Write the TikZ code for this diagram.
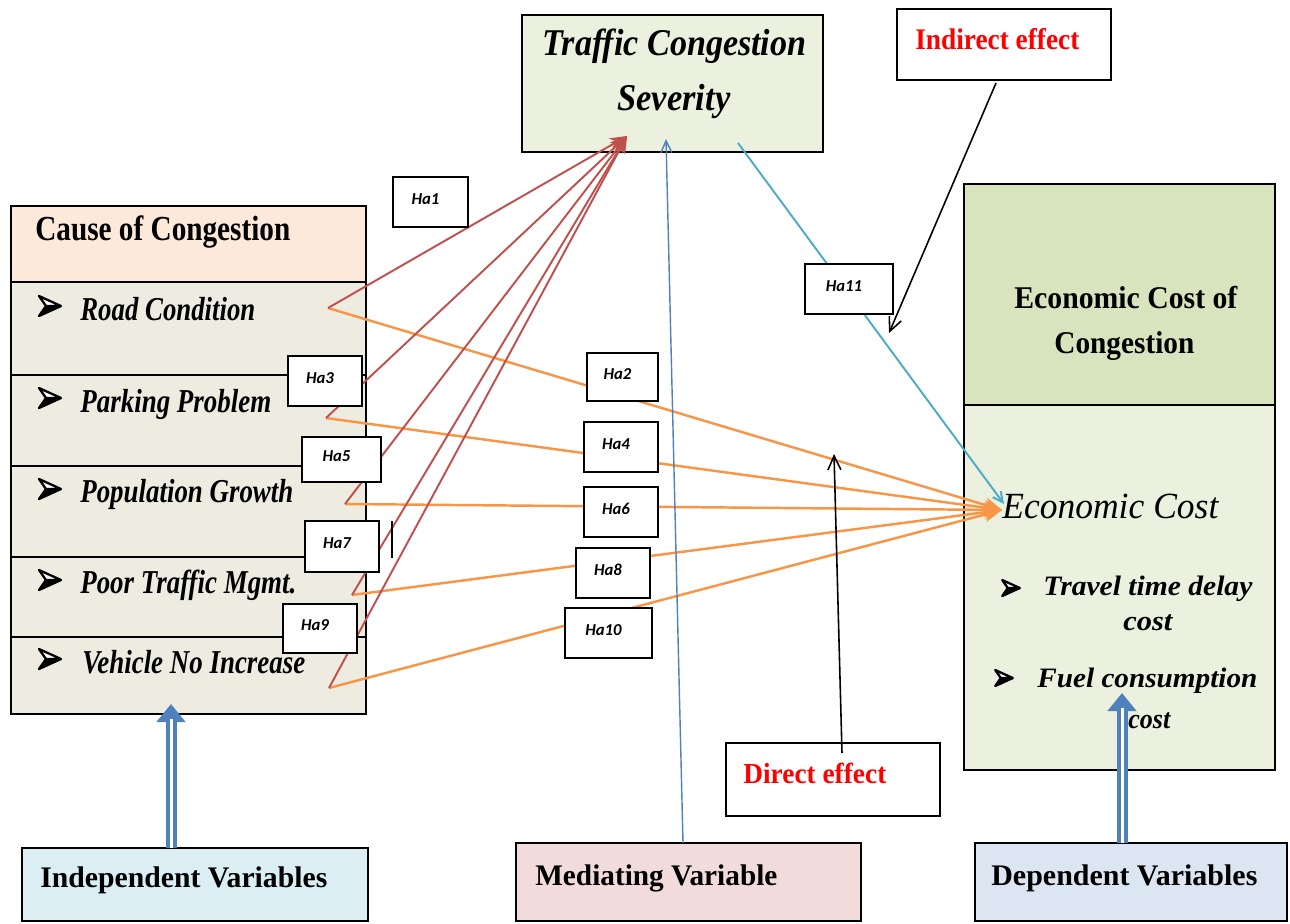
\documentclass[tikz,border=0pt]{standalone}
\usepackage{fontspec}
\setmainfont{Liberation Serif}
\newfontfamily\hafont{Carlito}
\usepackage{graphicx}
\usetikzlibrary{arrows.meta,fit}
\newlength\pxu \setlength\pxu{0.02cm}
\newcommand\W[2]{\resizebox{#1\pxu}{\height}{#2}}
\definecolor{tcsfill}{HTML}{EBF1DE}
\definecolor{causehead}{HTML}{FDE9D9}
\definecolor{causeitem}{HTML}{EEECE1}
\definecolor{econhead}{HTML}{D7E4BD}
\definecolor{econlow}{HTML}{EBF1DE}
\definecolor{indfill}{HTML}{DAEEF3}
\definecolor{medfill}{HTML}{F2DCDB}
\definecolor{depfill}{HTML}{DCE6F2}
\definecolor{cred}{HTML}{C0504D}
\definecolor{corg}{HTML}{F79646}
\definecolor{ccyan}{HTML}{4BACC6}
\definecolor{cblue}{HTML}{4F81BD}
\definecolor{ctxtred}{HTML}{FF0000}
\tikzset{
 box/.style={draw=black, line width=1pt, inner sep=0pt, rectangle},
 habox/.style={draw=black, line width=0.8pt, fill=white, inner sep=0pt, rectangle},
 hatext/.style={font=\hafont\bfseries\itshape\fontsize{9.5pt}{11pt}\selectfont, inner sep=0pt},
 txt/.style={anchor=base west, inner sep=0pt},
 redln/.style={draw=cred, line width=1.1pt, -{Stealth[length=0.34cm,width=0.28cm]}},
 orgln/.style={draw=corg, line width=1.4pt, -{Stealth[length=0.36cm,width=0.3cm]}},
 cyanln/.style={draw=ccyan, line width=1.1pt, -{Straight Barb[length=0.2cm,width=0.2cm]}},
 medln/.style={draw=cblue, line width=0.8pt, -{Straight Barb[length=0.24cm,width=0.22cm]}},
 blkln/.style={draw=black, line width=0.9pt, -{Straight Barb[length=0.28cm,width=0.26cm]}},
 dblout/.style={draw=cblue, line width=0.22cm, -{Triangle[length=0.36cm,width=0.56cm]}},
 dblin/.style={draw=white, line width=0.06cm, shorten >=0.3cm},
 bulletmark/.pic={
   \fill[black] (11,0) -- (-11,10) -- (-4,0) -- cycle;
   \draw[black, line width=1.3pt, fill=white, line join=round] (11,0) -- (-11,-10) -- (-4,0) -- cycle;
   \draw[black, line width=1.3pt, line join=round] (11,0) -- (-11,10) -- (-4,0);
 },
}
\begin{document}
\begin{tikzpicture}[x=0.02cm,y=-0.02cm]
\useasboundingbox (0,0) rectangle (1290,923);

% ---------- boxes ----------
\node[box, fill=tcsfill, fit={(522,15) (823,152)}] (tcs) {};
\node[box, fill=white, fit={(897,9) (1111,80)}] (indbox) {};
\node[box, fill=causehead, fit={(11,206) (366,282)}] (causeh) {};
\node[box, fill=causeitem, fit={(11,282) (366,375)}] (road) {};
\node[box, fill=causeitem, fit={(11,375) (366,466)}] (park) {};
\node[box, fill=causeitem, fit={(11,466) (366,557)}] (pop) {};
\node[box, fill=causeitem, fit={(11,557) (366,637)}] (poor) {};
\node[box, fill=causeitem, fit={(11,637) (366,714)}] (veh) {};
\node[box, fill=econhead, fit={(964,184) (1275,405)}] (econh) {};
\node[box, fill=econlow, fit={(964,405) (1275,770)}] (econ) {};
\node[box, fill=white, fit={(726,743) (940,816)}] (dirbox) {};
\node[box, fill=indfill, fit={(22,848) (368,921)}] (indep) {};
\node[box, fill=medfill, fit={(516,843) (861,921)}] (med) {};
\node[box, fill=depfill, fit={(975,843) (1287,921)}] (dep) {};

% ---------- texts ----------
\begin{scope}[every node/.append style={txt}]
\node[font=\fontsize{21.5pt}{25pt}\selectfont\bfseries\itshape] (tcs1) at (542,55) {\W{264}{Traffic Congestion}};
\node[font=\fontsize{21.5pt}{25pt}\selectfont\bfseries\itshape] (tcs2) at (617,110) {\W{113}{Severity}};
\node[font=\fontsize{17pt}{20pt}\selectfont\bfseries, text=ctxtred] (indt) at (915,49) {\W{164}{Indirect effect}};
\node[font=\fontsize{20pt}{24pt}\selectfont\bfseries] (causet) at (35,240) {\W{255}{Cause of Congestion}};
\node[font=\fontsize{19pt}{23pt}\selectfont\bfseries\itshape] (roadt) at (80,320) {\W{175}{Road Condition}};
\node[font=\fontsize{19pt}{23pt}\selectfont\bfseries\itshape] (parkt) at (80,412) {\W{191}{Parking Problem}};
\node[font=\fontsize{19pt}{23pt}\selectfont\bfseries\itshape] (popt) at (80,502) {\W{213}{Population Growth}};
\node[font=\fontsize{19pt}{23pt}\selectfont\bfseries\itshape] (poort) at (80,593) {\W{216}{Poor Traffic Mgmt.}};
\node[font=\fontsize{19pt}{23pt}\selectfont\bfseries\itshape] (veht) at (82,673) {\W{223}{Vehicle No Increase}};
\node[font=\fontsize{18pt}{22pt}\selectfont\bfseries] (econh1) at (1014,308) {\W{223}{Economic Cost of}};
\node[font=\fontsize{18pt}{22pt}\selectfont\bfseries] (econh2) at (1054,353) {\W{140}{Congestion}};
\node[font=\fontsize{21pt}{24pt}\selectfont\itshape] (econt) at (1002,518) {\W{216}{Economic Cost}};
\node[font=\fontsize{16pt}{19pt}\selectfont\bfseries\itshape] (trav1) at (1043,595) {\W{209}{Travel time delay}};
\node[font=\fontsize{16pt}{19pt}\selectfont\bfseries\itshape] (trav2) at (1123,630) {\W{49}{cost}};
\node[font=\fontsize{16pt}{19pt}\selectfont\bfseries\itshape] (fuel1) at (1037,687) {\W{220}{Fuel consumption}};
\node[font=\fontsize{16pt}{19pt}\selectfont\bfseries\itshape] (fuel2) at (1128,728) {\W{42}{cost}};
\node[font=\fontsize{17pt}{20pt}\selectfont\bfseries] (indept) at (40,887) {\W{287}{Independent Variables}};
\node[font=\fontsize{17pt}{20pt}\selectfont\bfseries] (medt) at (535,885) {\W{242}{Mediating Variable}};
\node[font=\fontsize{17pt}{20pt}\selectfont\bfseries] (dept) at (991,885) {\W{266}{Dependent Variables}};
\node[font=\fontsize{16.5pt}{20pt}\selectfont\bfseries, text=ctxtred] (dirt) at (743,783) {\W{143}{Direct effect}};
\end{scope}

% bullets
\pic (b1) at (50,306) {bulletmark};
\pic (b2) at (50,398) {bulletmark};
\pic (b3) at (50,489) {bulletmark};
\pic (b4) at (50,580) {bulletmark};
\pic (b5) at (50,659) {bulletmark};
\pic[scale=0.8] (b6) at (1011,588) {bulletmark};
\pic[scale=0.8] (b7) at (1004,678) {bulletmark};

% ---------- connector points ----------
\coordinate (vRoad) at (328,308);
\coordinate (vPark) at (326,418);
\coordinate (vPop) at (345,504);
\coordinate (vPoor) at (352,595);
\coordinate (vVeh) at (329,688);
\coordinate (tipR) at (627,136);
\coordinate (tipO) at (1002,510);
\coordinate (cyS) at (738,143);
\coordinate (cyE) at (1004,504);
\coordinate (medS) at (683,843);
\coordinate (medE) at (666,139);
\coordinate (dirS) at (842,753);
\coordinate (dirE) at (834,454);
\coordinate (indS) at (996,83);
\coordinate (indE) at (889,333);
\coordinate (iaS) at (171,848);
\coordinate (iaE) at (171,704);
\coordinate (daS) at (1122,843);
\coordinate (daE) at (1122,693);
\coordinate (mkA) at (392,521);
\coordinate (mkB) at (392,558);

% ---------- connectors ----------
\foreach \p in {vRoad,vPark,vPop,vPoor,vVeh} {\draw[orgln] (\p) -- (tipO);}
\foreach \p in {vRoad,vPark,vPop,vPoor,vVeh} {\draw[redln] (\p) -- (tipR);}
\draw[cyanln] (cyS) -- (cyE);
\draw[medln] (medS) -- (medE);
\draw[blkln] (dirS) -- (dirE);
\draw[blkln] (indS) -- (indE);
\draw[dblout] (iaS) -- (iaE);
\draw[dblin] (iaS) -- (iaE);
\draw[dblout] (daS) -- (daE);
\draw[dblin] (daS) -- (daE);
\draw[black, line width=1.1pt] (mkA) -- (mkB);

% ---------- hypothesis labels ----------
\node[habox, fit={(393,177) (468,227)}] (ha1) {};
\node[habox, fit={(587,353) (658,401)}] (ha2) {};
\node[habox, fit={(288,356) (362,406)}] (ha3) {};
\node[habox, fit={(584,422) (658,472)}] (ha4) {};
\node[habox, fit={(302,437) (381,482)}] (ha5) {};
\node[habox, fit={(584,487) (658,537)}] (ha6) {};
\node[habox, fit={(305,521) (379,572)}] (ha7) {};
\node[habox, fit={(576,548) (650,598)}] (ha8) {};
\node[habox, fit={(283,604) (357,653)}] (ha9) {};
\node[habox, fit={(565,608) (652,658)}] (ha10) {};
\node[habox, fit={(805,264) (893,314)}] (ha11) {};
\foreach \i in {1,...,11} {
  \node[hatext] (ha\i t) at ([shift={(-5,-3)}]ha\i.center) {Ha\i};
}
\end{tikzpicture}
\end{document}
